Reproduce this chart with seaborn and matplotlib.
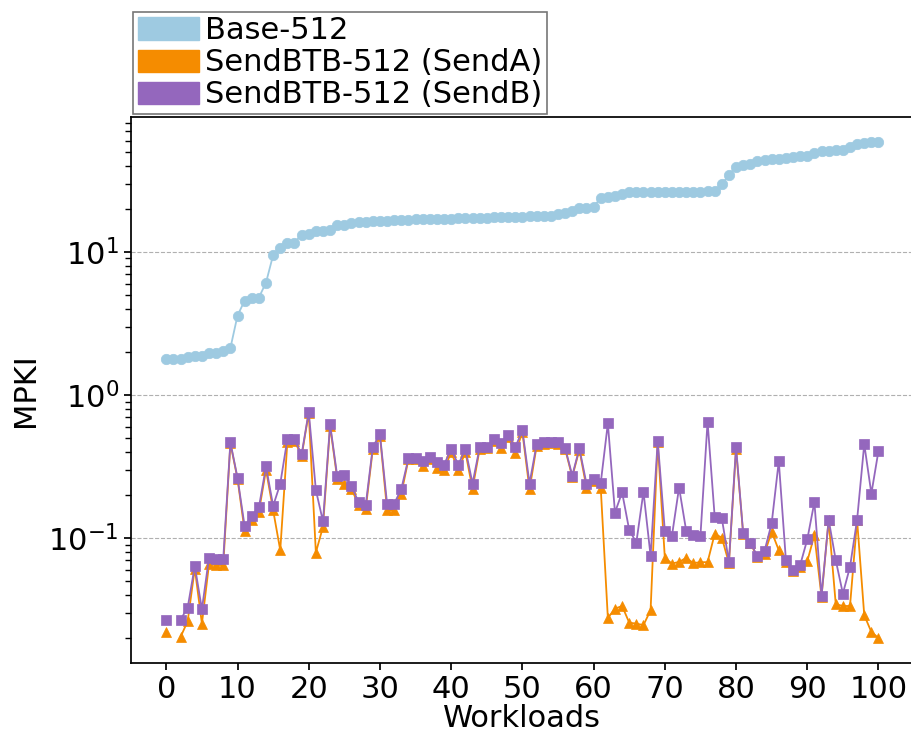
import numpy as np
import pandas as pd
import seaborn as sns
import matplotlib
matplotlib.use("Agg")
import matplotlib.pyplot as plt
from matplotlib.patches import Patch

# MPKI per workload
base_512 = [1.78, 1.78, 1.79, 1.83, 1.87, 1.87, 1.97, 1.96, 2.03, 2.13,
            3.59, 4.57, 4.74, 4.80, 6.1, 9.5, 10.7, 11.5, 11.6, 13.2,
            13.4, 14.0, 14.1, 14.2, 15.3, 15.4, 16.0, 16.3, 16.3, 16.4,
            16.5, 16.5, 16.6, 16.7, 16.8, 16.9, 16.9, 16.9, 17.0, 17.1,
            17.1, 17.2, 17.2, 17.2, 17.3, 17.3, 17.4, 17.4, 17.4, 17.5,
            17.6, 17.7, 17.7, 17.8, 17.8, 18.4, 18.7, 19.4, 20.2, 20.4,
            20.6, 23.9, 24.0, 24.5, 25.4, 26.0, 26.0, 26.0, 26.2, 26.2,
            26.2, 26.3, 26.4, 26.4, 26.4, 26.4, 26.5, 26.7, 29.6, 34.4,
            39.3, 40.4, 41.2, 43.3, 43.6, 44.5, 44.5, 45.2, 45.7, 46.4,
            46.9, 49.0, 50.3, 50.8, 51.1, 51.1, 54.0, 56.9, 57.4, 58.5, 58.5]

send_a = [0.0221, np.nan, 0.0204, 0.0263, 0.0614, 0.0253, 0.0658, 0.065, 0.065, 0.46,
          0.26, 0.112, 0.134, 0.153, 0.30, 0.157, 0.0824, 0.47, 0.48, 0.375,
          0.75, 0.0794, 0.12, 0.61, 0.26, 0.239, 0.222, 0.17, 0.16, 0.42,
          0.52, 0.157, 0.157, 0.205, 0.355, 0.355, 0.319, 0.355, 0.31, 0.299,
          0.40, 0.299, 0.40, 0.221, 0.42, 0.43, 0.48, 0.424, 0.51, 0.391,
          0.55, 0.219, 0.44, 0.455, 0.46, 0.455, 0.42, 0.268, 0.415, 0.225,
          0.25, 0.225, 0.0277, 0.0322, 0.0336, 0.0257, 0.0253, 0.0247, 0.0314, 0.47,
          0.0728, 0.0665, 0.0683, 0.0728, 0.067, 0.068, 0.068, 0.107, 0.101, 0.067,
          0.42, 0.107, 0.092, 0.074, 0.078, 0.111, 0.0824, 0.068, 0.059, 0.063,
          0.069, 0.105, 0.039, 0.133, 0.0346, 0.0336, 0.0336, 0.133, 0.029, 0.0221, 0.0201]

send_b = [0.027, np.nan, 0.027, 0.0327, 0.064, 0.0319, 0.0733, 0.071, 0.072, 0.467,
          0.264, 0.121, 0.143, 0.164, 0.317, 0.168, 0.240, 0.492, 0.49, 0.385,
          0.764, 0.217, 0.131, 0.624, 0.271, 0.276, 0.232, 0.178, 0.170, 0.435,
          0.531, 0.174, 0.174, 0.221, 0.361, 0.365, 0.347, 0.371, 0.338, 0.326,
          0.419, 0.326, 0.419, 0.241, 0.431, 0.435, 0.492, 0.459, 0.525, 0.431,
          0.569, 0.241, 0.454, 0.467, 0.471, 0.467, 0.428, 0.274, 0.424, 0.240,
          0.259, 0.243, 0.634, 0.151, 0.209, 0.114, 0.0933, 0.211, 0.0752, 0.479,
          0.1125, 0.104, 0.226, 0.1125, 0.106, 0.104, 0.651, 0.141, 0.138, 0.0683,
          0.435, 0.108, 0.0933, 0.0748, 0.0815, 0.127, 0.345, 0.0702, 0.0604, 0.0648,
          0.098, 0.179, 0.0395, 0.135, 0.0702, 0.041, 0.063, 0.135, 0.454, 0.205, 0.408]

labels = ["Base-512", "SendBTB-512 (SendA)", "SendBTB-512 (SendB)"]
colors = ["#9ecae1", "#f58c00", "#9467bd"]
markers = ["o", "^", "s"]

df = pd.DataFrame({"Workload": np.arange(len(base_512)),
                   "base": base_512, "senda": send_a, "sendb": send_b})

sns.set_theme(style="ticks")
plt.rcParams['font.family'] = ['DejaVu Sans']
plt.rcParams['font.size'] = 22
for k in ["text.color", "axes.labelcolor", "xtick.color", "ytick.color", "axes.edgecolor"]:
    plt.rcParams[k] = "black"

fig = plt.figure(figsize=(9.12, 7.34), dpi=100)
ax = fig.add_axes([0.1433, 0.0971, 0.859, 0.7431])

# one segment per run of non-missing values, so the gap at workload 1 stays open
for col, c, m, ms in zip(["base", "senda", "sendb"], colors, markers, [7.5, 7, 6.5]):
    seg = df[col].isna().cumsum()
    sub = df.assign(seg=seg).dropna(subset=[col])
    sns.lineplot(data=sub, x="Workload", y=col, units="seg", estimator=None,
                 color=c, marker=m, markersize=ms, markeredgecolor=c,
                 markeredgewidth=0.5, linewidth=1.3, ax=ax, legend=False)

ax.set_yscale("log")
ax.set_xlim(-5, 105)
ax.set_xticks(range(0, 101, 10))
ax.tick_params(axis="both", which="major", labelsize=22, length=5)
ax.yaxis.grid(True, which="major", linestyle="--", color="#b0b0b0", linewidth=0.8)
ax.set_axisbelow(True)
ax.set_xlabel("Workloads", fontsize=22, labelpad=0)
ax.set_ylabel("MPKI", fontsize=22, labelpad=6)

handles = [Patch(facecolor=c, edgecolor=c) for c in colors]
leg = fig.legend(handles, labels, loc="lower left",
                 bbox_to_anchor=(133 / 912, 1 - 114 / 734), bbox_transform=fig.transFigure,
                 fontsize=22, fancybox=False, frameon=True, borderaxespad=0,
                 handlelength=2.0, handleheight=0.75, handletextpad=0.2,
                 labelspacing=0.1, borderpad=0.15)
leg.get_frame().set_edgecolor("#555555")
leg.get_frame().set_linewidth(1.2)

plt.savefig("out.png", dpi=100)
